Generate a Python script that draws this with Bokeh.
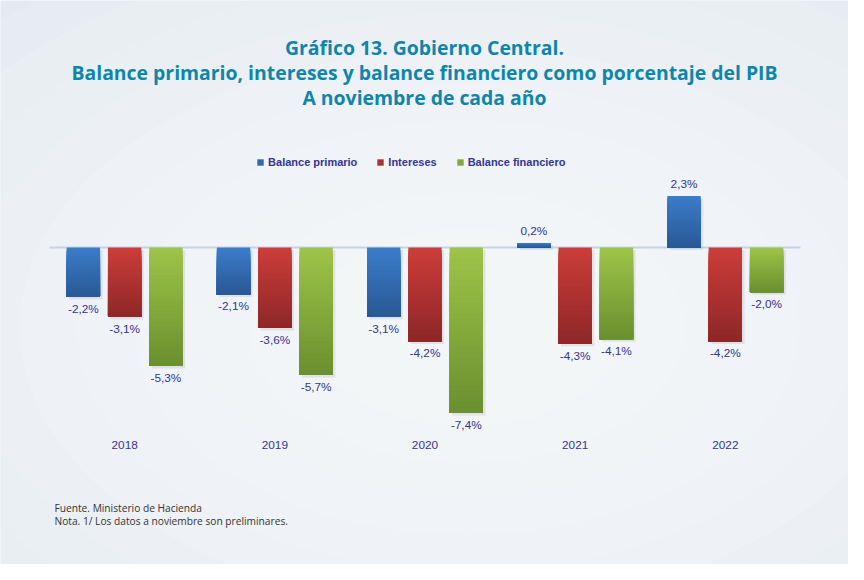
import numpy as np
from bokeh.plotting import figure
from bokeh.models import ColumnDataSource, Label, Legend, LegendItem, Range1d
from bokeh.core.properties import value
from bokeh.embed import file_html
from bokeh.resources import INLINE

# ---- data ----
years = ["2018", "2019", "2020", "2021", "2022"]
series_names = ["Balance primario", "Intereses", "Balance financiero"]
balance_primario = [-2.2, -2.1, -3.1, 0.2, 2.3]
intereses = [-3.1, -3.6, -4.2, -4.3, -4.2]
balance_financiero = [-5.3, -5.7, -7.4, -4.1, -2.0]

title_lines = ["Gráfico 13. Gobierno Central.",
               "Balance primario, intereses y balance financiero como porcentaje del PIB",
               "A noviembre de cada año"]
notes = ["Fuente. Ministerio de Hacienda",
         "Nota. 1/ Los datos a noviembre son preliminares."]

# ---- styles / layout ----
W, H = 848, 564
SX, SY = W / 864.0, H / 580.0
def fx(X):  # reference x -> figure x
    return X * SX
def fy(Y):  # reference y -> figure y (from top)
    return Y * SY

PX_X = (fx(815) - fx(50)) / 5.0
PX_Y = 23.0 * SY
LEFT = fx(50)
ZERO = fy(254)
top_colors = ["#3B7CC9", "#CB3D3A", "#9DC348"]
bot_colors = ["#2A5996", "#8F2727", "#6B902F"]
offsets = [-0.275, 0.0, 0.275]
bar_w = 0.222
label_color = "#34349A"
title_color = "#0E86AC"

x0 = -LEFT / PX_X
x1 = (W - LEFT) / PX_X
y1 = ZERO / PX_Y
y0 = -(H - ZERO) / PX_Y

p = figure(width=W, height=H, output_backend="svg", toolbar_location=None,
           x_range=Range1d(x0, x1), y_range=Range1d(y0, y1),
           min_border=0, min_border_left=0, min_border_right=0,
           min_border_top=0, min_border_bottom=0)
p.axis.visible = False
p.grid.visible = False
p.outline_line_color = None
p.background_fill_color = "#E4EAF0"
p.border_fill_color = "#E4EAF0"

# soft radial background
cx = (W * 0.55 - LEFT) / PX_X
cy = (ZERO - H * 0.58) / PX_Y
for k in range(10):
    s = 1.0 - k * 0.085
    p.ellipse(x=[cx], y=[cy], width=W * 1.6 * s, height=H * 1.5 * s,
              width_units="screen", height_units="screen",
              fill_color="white", fill_alpha=0.1, line_color=None)

# zero line
p.segment(x0=[0], y0=[0], x1=[len(years)], y1=[0], line_color="#C4D4E6", line_width=2)

def hex2rgb(h):
    return np.array([int(h[i:i + 2], 16) for i in (1, 3, 5)], dtype=float)

def rgb2hex(c):
    return "#%02x%02x%02x" % tuple(int(round(v)) for v in c)

N = 30
all_series = [balance_primario, intereses, balance_financiero]
legend_items = []
lx, ly, ltxt, lbase = [], [], [], []
for si, vals in enumerate(all_series):
    ct, cb = hex2rgb(top_colors[si]), hex2rgb(bot_colors[si])
    xs, tops, bots, cols = [], [], [], []
    sx, stop, sbot = [], [], []
    for i, v in enumerate(vals):
        xc = i + 0.5 + offsets[si]
        hi, lo = max(v, 0.0), min(v, 0.0)
        edges = np.linspace(hi, lo, N + 1)
        for j in range(N):
            t = j / (N - 1)
            xs.append(xc)
            tops.append(edges[j])
            bots.append(lo)
            cols.append(rgb2hex(ct * (1 - t) + cb * t))
        sx.append(xc + 2.5 / PX_X)
        stop.append(hi - 2.5 / PX_Y)
        sbot.append(lo - 2.5 / PX_Y)
        lx.append(xc)
        ly.append(v)
        ltxt.append(("%.1f" % v).replace(".", ",") + "%")
        lbase.append("bottom" if v > 0 else "top")
    p.vbar(x=sx, top=stop, bottom=sbot, width=bar_w, fill_color="#8090A0",
           fill_alpha=0.18, line_color=None)
    src = ColumnDataSource(dict(x=xs, top=tops, bottom=bots, color=cols))
    r = p.vbar(x="x", top="top", bottom="bottom", width=bar_w, source=src,
               fill_color="color", line_color=None)
    legend_items.append(LegendItem(label=series_names[si], renderers=[r], index=N // 2))

# value labels
pos = [i for i, b in enumerate(lbase) if b == "bottom"]
neg = [i for i, b in enumerate(lbase) if b == "top"]
for idx, base, off in ((neg, "top", 5), (pos, "bottom", -5)):
    p.text(x=[lx[i] for i in idx], y=[ly[i] for i in idx], text=[ltxt[i] for i in idx],
           text_align="center", text_baseline=base, y_offset=off,
           text_font=value("Liberation Sans"), text_font_size="11.8px",
           text_color=label_color)

# year labels
p.text(x=[i + 0.5 for i in range(len(years))], y=[(ZERO - fy(457)) / PX_Y] * len(years),
       text=years, text_align="center", text_baseline="middle",
       text_font=value("Liberation Sans"), text_font_size="11.8px", text_color=label_color)

# legend
legend = Legend(items=legend_items, orientation="horizontal",
                location=(fx(265) - 4, H - fy(167) - 6),
                glyph_width=8, glyph_height=8, label_standoff=4, spacing=19,
                padding=0, margin=0, border_line_color=None, background_fill_alpha=0,
                label_text_font="Liberation Sans", label_text_font_style="bold",
                label_text_font_size="11px", label_text_color=label_color,
                label_height=12)
p.add_layout(legend, "center")

# title
for t, yy in zip(title_lines, [48, 74, 100]):
    p.add_layout(Label(x=fx(432), y=H - fy(yy), x_units="screen", y_units="screen", text=t,
                       text_align="center", text_baseline="middle",
                       text_font="Open Sans", text_font_style="bold",
                       text_font_size="19.4px", text_color=title_color))

# notes
for t, yy in zip(notes, [522, 535]):
    p.add_layout(Label(x=fx(55), y=H - fy(yy), x_units="screen", y_units="screen", text=t,
                       text_align="left", text_baseline="middle",
                       text_font="Open Sans", text_font_size="10.2px",
                       text_color="#333333"))

open("out.html", "w").write(file_html(p, INLINE))
